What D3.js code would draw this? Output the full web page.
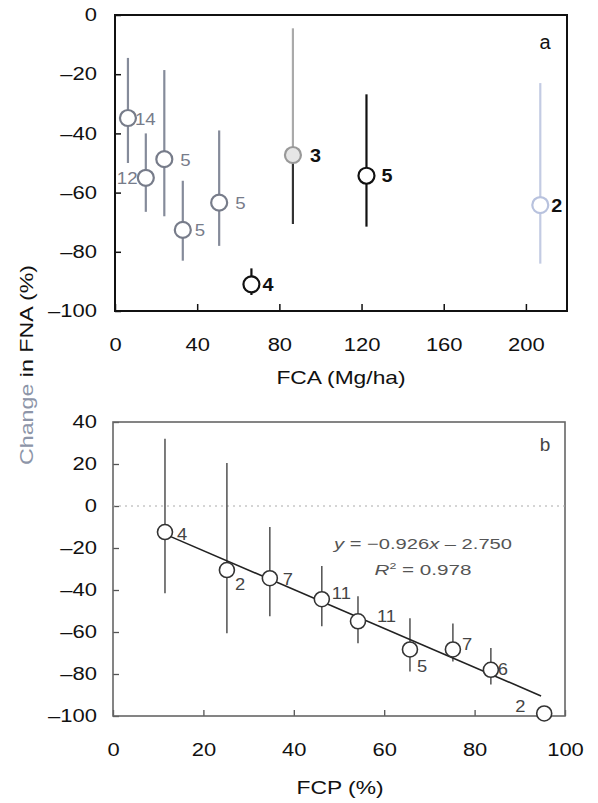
<!DOCTYPE html>
<html><head><meta charset="utf-8">
<script src="https://cdn.jsdelivr.net/npm/d3@7"></script>
<style>
body{margin:0;background:#fff;}
svg{display:block;font-family:"Liberation Sans",Arial,sans-serif;}
</style></head>
<body>
<svg id="c" width="598" height="803"></svg>
<script>
// Panel a data: FCA (Mg/ha) vs change in FNA (%)
const aX     = [6.3, 15, 24, 33, 50.7, 66.4, 86.6, 122.4, 207];
const aY     = [-34.8, -55, -48.7, -72.6, -63.4, -91, -47.3, -54.3, -64.2];
const aHi    = [-14.5, -40, -18.6, -56, -39, -85.6, -4.5, -26.8, -23];
const aLo    = [-50, -66.5, -68, -83, -78, -94.6, -70.6, -71.5, -84];
const aN     = ["14", "12", "5", "5", "5", "4", "3", "5", "2"];
const aXTicks = [0, 40, 80, 120, 160, 200];
const aYTicks = [0, -20, -40, -60, -80, -100];

// Panel b data: FCP (%) vs change in FNA (%)
const bX   = [11.5, 25.2, 34.7, 46.2, 54.2, 65.7, 75.2, 83.6, 95.4];
const bY   = [-12.4, -30.5, -34.4, -44.4, -54.9, -68.3, -68.3, -78, -98.8];
const bHi  = [32, 20.5, -10, -28.6, -43, -53.5, -56, -67.6, -98.8];
const bLo  = [-41.5, -60.6, -52.5, -57.3, -65.4, -78.8, -74, -85, -98.8];
const bN   = ["4", "2", "7", "11", "11", "5", "7", "6", "2"];
const bXTicks = [0, 20, 40, 60, 80, 100];
const bYTicks = [40, 20, 0, -20, -40, -60, -80, -100];
const fitSlope = -0.926, fitIntercept = -2.750, fitR2 = 0.978;
const fitRange = [12, 94.7];

const svg = d3.select("#c");
function stretch(sel, f){
  sel.each(function(){
    const w = this.getComputedTextLength();
    this.setAttribute("textLength", (w*f).toFixed(1));
    this.setAttribute("lengthAdjust","spacingAndGlyphs");
  });
}
const fmtTick = d => d < 0 ? "\u2013" + (-d) : String(d);

// ---------- Panel a ----------
const ax = d3.scaleLinear().domain([0, 220]).range([115, 567]);
const ay = d3.scaleLinear().domain([-100, 0]).range([311, 15]);

const aStroke = ["#858b9a","#858b9a","#858b9a","#858b9a","#858b9a","#111","#333","#111","#c3cbe3"];
const aUpStroke = ["#858b9a","#858b9a","#858b9a","#858b9a","#858b9a","#111","#aaa","#111","#c3cbe3"];
const aCircStroke = ["#777c8a","#777c8a","#777c8a","#777c8a","#777c8a","#111","#999","#111","#b8c2de"];
const aCircFill = ["#fff","#fff","#fff","#fff","#fff","#fff","#e6e6e6","#fff","#fff"];
const aLblColor = ["#777c8a","#777c8a","#777c8a","#777c8a","#777c8a","#111","#111","#111","#111"];
const aLblDx = [7, -29, 16, 12, 16, 11, 17, 15, 11];

const ga = svg.append("g");
ga.append("g").attr("transform","translate(0,311)")
  .call(d3.axisBottom(ax).tickValues(aXTicks).tickSize(-7).tickPadding(27).tickFormat(fmtTick))
  .call(g=>{g.select(".domain").remove();g.selectAll(".tick line").attr("stroke","#111").attr("stroke-width",1.5);
    g.selectAll("text").attr("font-size",18).attr("fill","#111").call(stretch,1.22);});
ga.append("g").attr("transform","translate(115,0)")
  .call(d3.axisLeft(ay).tickValues(aYTicks).tickSize(-6).tickPadding(18).tickFormat(fmtTick))
  .call(g=>{g.select(".domain").remove();g.selectAll(".tick line").attr("stroke","#111").attr("stroke-width",1.5);
    g.selectAll("text").attr("font-size",18).attr("fill","#111").call(stretch,1.22);});
ga.append("rect").attr("x",ax(0)).attr("y",ay(0)).attr("width",ax(220)-ax(0)).attr("height",ay(-100)-ay(0))
  .attr("fill","none").attr("stroke","#111").attr("stroke-width",2);
aX.forEach((x,i)=>{
  ga.append("line").attr("x1",ax(x)).attr("x2",ax(x)).attr("y1",ay(aHi[i])).attr("y2",ay(aY[i]))
    .attr("stroke",aUpStroke[i]).attr("stroke-width",2.2);
  ga.append("line").attr("x1",ax(x)).attr("x2",ax(x)).attr("y1",ay(aY[i])).attr("y2",ay(aLo[i]))
    .attr("stroke",aStroke[i]).attr("stroke-width",2.2);
});
ga.selectAll("circle.pa").data(aX).join("circle").attr("class","pa")
  .attr("cx",d=>ax(d)).attr("cy",(d,i)=>ay(aY[i])).attr("r",8)
  .attr("fill",(d,i)=>aCircFill[i]).attr("stroke",(d,i)=>aCircStroke[i]).attr("stroke-width",2.2);
ga.selectAll("text.na").data(aN).join("text").attr("class","na")
  .attr("x",(d,i)=>ax(aX[i])+aLblDx[i]).attr("y",(d,i)=>ay(aY[i])+6.5)
  .attr("font-size",(d,i)=>i>=5?18:17).attr("fill",(d,i)=>aLblColor[i])
  .attr("font-weight",(d,i)=>i>=5?"bold":"normal").text(d=>d).call(stretch,1.1);
ga.append("text").attr("x",545).attr("y",49).attr("font-size",20).attr("fill","#111").attr("text-anchor","middle").text("a");
ga.append("text").attr("x",341).attr("y",384).attr("font-size",19).attr("fill","#111").attr("text-anchor","middle")
  .text("FCA (Mg/ha)").call(stretch,1.2);

// ---------- Panel b ----------
const bx = d3.scaleLinear().domain([0, 100]).range([113, 565]);
const by = d3.scaleLinear().domain([-100, 40]).range([716, 422]);
const gb = svg.append("g");
gb.append("g").attr("transform","translate(0,716)")
  .call(d3.axisBottom(bx).tickValues(bXTicks).tickSize(-6).tickPadding(27).tickFormat(fmtTick))
  .call(g=>{g.select(".domain").remove();g.selectAll(".tick line").attr("stroke","#555").attr("stroke-width",1.3);
    g.selectAll("text").attr("font-size",18).attr("fill","#111").call(stretch,1.22);});
gb.append("g").attr("transform","translate(113,0)")
  .call(d3.axisLeft(by).tickValues(bYTicks).tickSize(-6).tickPadding(16).tickFormat(fmtTick))
  .call(g=>{g.select(".domain").remove();g.selectAll(".tick line").attr("stroke","#555").attr("stroke-width",1.3);
    g.selectAll("text").attr("font-size",18).attr("fill","#111").call(stretch,1.22);});
gb.append("rect").attr("x",bx(0)).attr("y",by(40)).attr("width",bx(100)-bx(0)).attr("height",by(-100)-by(40))
  .attr("fill","none").attr("stroke","#666").attr("stroke-width",1.6);
gb.append("line").attr("x1",bx(0)).attr("x2",bx(100)).attr("y1",by(0)).attr("y2",by(0))
  .attr("stroke","#aaa").attr("stroke-width",1).attr("stroke-dasharray","2,4");
bX.forEach((x,i)=>{
  gb.append("line").attr("x1",bx(x)).attr("x2",bx(x)).attr("y1",by(bHi[i])).attr("y2",by(bLo[i]))
    .attr("stroke","#444").attr("stroke-width",1.4);
});
gb.append("line").attr("x1",bx(fitRange[0])).attr("x2",bx(fitRange[1]))
  .attr("y1",by(fitSlope*fitRange[0]+fitIntercept)).attr("y2",by(fitSlope*fitRange[1]+fitIntercept))
  .attr("stroke","#222").attr("stroke-width",1.6);
gb.selectAll("circle.pb").data(bX).join("circle").attr("class","pb")
  .attr("cx",d=>bx(d)).attr("cy",(d,i)=>by(bY[i])).attr("r",7.5)
  .attr("fill","#fff").attr("stroke","#333").attr("stroke-width",1.6);
const bLblDx = [12, 8, 13, 10, 19, 7, 9, 7, -29];
const bLblDy = [8, 20, 7, 0, 1, 23, 1, 5, -1];
gb.selectAll("text.nb").data(bN).join("text").attr("class","nb")
  .attr("x",(d,i)=>bx(bX[i])+bLblDx[i]).attr("y",(d,i)=>by(bY[i])+bLblDy[i])
  .attr("font-size",16).attr("fill","#444").text(d=>d).call(stretch,1.15);
gb.append("text").attr("x",545).attr("y",451).attr("font-size",19).attr("fill","#444").attr("text-anchor","middle").text("b");
const eq = gb.append("text").attr("x",423).attr("y",549).attr("font-size",15).attr("fill","#555").attr("text-anchor","middle");
eq.append("tspan").attr("font-style","italic").text("y");
eq.append("tspan").text(" = \u2212" + Math.abs(fitSlope).toFixed(3));
eq.append("tspan").attr("font-style","italic").text("x");
eq.append("tspan").text(" \u2013 " + Math.abs(fitIntercept).toFixed(3));
eq.attr("textLength",178).attr("lengthAdjust","spacingAndGlyphs");
const r2 = gb.append("text").attr("x",423).attr("y",575).attr("font-size",15).attr("fill","#555").attr("text-anchor","middle");
r2.append("tspan").attr("font-style","italic").text("R");
r2.append("tspan").attr("font-size",9).attr("dy",-6).text("2");
r2.append("tspan").attr("dy",6).text(" = " + fitR2.toFixed(3));
r2.attr("textLength",97).attr("lengthAdjust","spacingAndGlyphs");
gb.append("text").attr("x",340).attr("y",794).attr("font-size",19).attr("fill","#111").attr("text-anchor","middle")
  .text("FCP (%)").call(stretch,1.2);

// shared y label
const yl = svg.append("text").attr("transform","translate(33,365) rotate(-90)").attr("text-anchor","middle").attr("font-size",19).attr("fill","#111");
yl.append("tspan").attr("fill","#8d95a8").text("Change");
yl.append("tspan").text(" in FNA (%)");
yl.attr("textLength",200).attr("lengthAdjust","spacingAndGlyphs");
</script>
</body></html>
